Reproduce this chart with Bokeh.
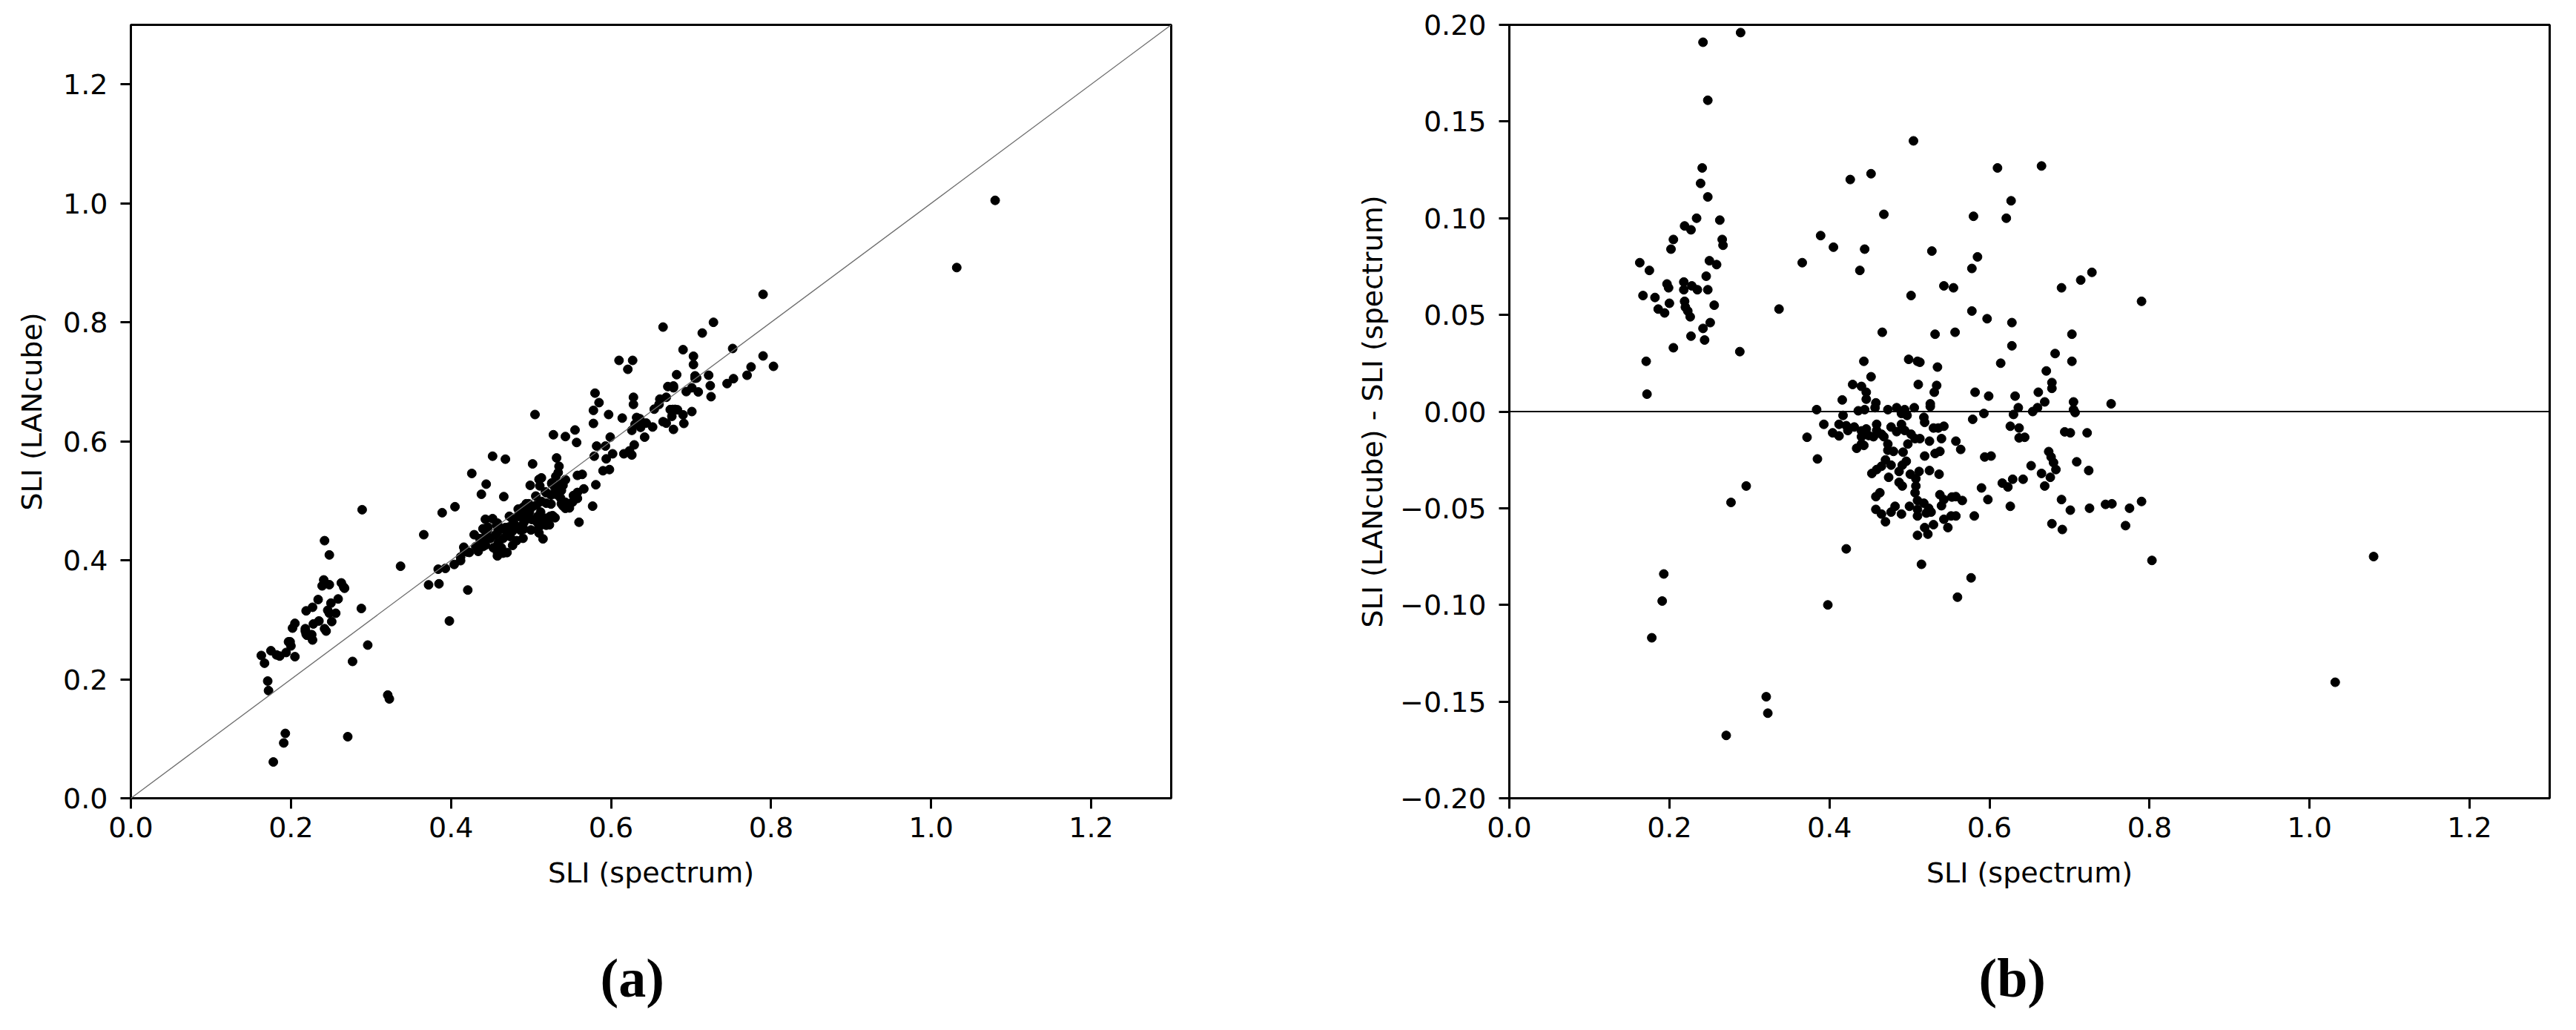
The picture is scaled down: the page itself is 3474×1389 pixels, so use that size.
import numpy as np
from bokeh.plotting import figure
from bokeh.layouts import row
from bokeh.models import FixedTicker, Slope, Span, Title, ColumnDataSource
from bokeh.embed import file_html
from bokeh.resources import INLINE

# SLI measured from the spectrum
sli_spectrum = [
    0.289, 0.242, 0.248, 0.241, 0.239, 0.248, 0.234, 0.263, 0.219, 0.227,
    0.205, 0.266, 0.267, 0.202, 0.163, 0.175, 0.250, 0.259, 0.246, 0.197,
    0.199, 0.218, 0.228, 0.235, 0.218, 0.248, 0.167, 0.182, 0.200, 0.186,
    0.194, 0.219, 0.220, 0.223, 0.226, 0.256, 0.337, 0.251, 0.242, 0.227,
    0.244, 0.205, 0.288, 0.171, 0.172,
    0.296, 0.277, 0.193, 0.191, 0.178, 0.321, 0.323, 0.271,
    0.505, 0.426, 0.452, 0.468, 0.389, 0.405, 0.444, 0.366, 0.438, 0.528,
    0.502, 0.543, 0.555, 0.466, 0.532, 0.557, 0.443, 0.499, 0.510, 0.513,
    0.535, 0.452, 0.429, 0.440, 0.511, 0.534, 0.531, 0.446, 0.416, 0.446,
    0.458, 0.526, 0.526, 0.384, 0.473, 0.484, 0.494, 0.506, 0.436, 0.457,
    0.610, 0.665, 0.627, 0.580, 0.621, 0.585, 0.578, 0.690, 0.714, 0.728,
    0.790, 0.578, 0.597, 0.628, 0.703, 0.628, 0.682, 0.614, 0.703, 0.671,
    0.678, 0.678, 0.582, 0.599, 0.632, 0.661, 0.669, 0.705, 0.752, 0.636,
    0.660, 0.654, 0.705, 0.593, 0.630,
    0.707, 0.579, 0.626, 0.637, 0.637, 0.644, 0.694, 0.701, 0.722, 0.558,
    0.564, 0.594, 0.602, 0.674, 0.677, 0.680, 0.683, 0.709, 0.724, 0.652,
    0.665, 0.676, 0.669, 0.642, 0.629, 0.616, 0.623, 0.590, 0.598, 0.558,
    0.566, 0.626, 0.690, 0.701, 0.725, 0.745, 0.753, 0.775, 0.790, 0.558,
    0.581, 0.678, 0.691, 0.770, 0.803, 0.577, 0.560,
    1.080, 1.032,
    0.444, 0.490, 0.497, 0.417, 0.518, 0.519, 0.393, 0.412, 0.421, 0.431,
    0.459, 0.477, 0.490, 0.530, 0.536, 0.543, 0.404, 0.412, 0.372, 0.423,
    0.440, 0.446, 0.459, 0.465, 0.484, 0.494, 0.502, 0.440, 0.449, 0.455,
    0.468, 0.507, 0.513, 0.525, 0.540, 0.440, 0.434, 0.443, 0.473, 0.498,
    0.473, 0.480, 0.492, 0.519, 0.532, 0.538, 0.385, 0.470, 0.496, 0.491,
    0.477, 0.465, 0.459, 0.453, 0.487, 0.501, 0.512, 0.525, 0.537, 0.474,
    0.487, 0.491, 0.508, 0.508, 0.507, 0.463, 0.458, 0.538, 0.543, 0.553,
    0.510, 0.518, 0.524, 0.510, 0.540, 0.500, 0.482, 0.477, 0.490, 0.458,
    0.465, 0.470, 0.510, 0.521, 0.527, 0.543, 0.552, 0.519, 0.530, 0.548,
    0.523, 0.510, 0.421, 0.515, 0.398,
]

# SLI (LANcube) - SLI (spectrum)
sli_difference = [
    0.196, 0.191, 0.161, 0.126, 0.118, 0.111, 0.100, 0.099, 0.096, 0.094,
    0.089, 0.089, 0.086, 0.084, 0.077, 0.073, 0.078, 0.076, 0.070, 0.066,
    0.064, 0.067, 0.065, 0.063, 0.063, 0.063, 0.060, 0.059, 0.056, 0.053,
    0.051, 0.057, 0.054, 0.052, 0.049, 0.055, 0.053, 0.046, 0.043, 0.039,
    0.037, 0.033, 0.031, 0.026, 0.009,
    -0.0385, -0.047, -0.084, -0.098, -0.117, -0.1475, -0.156, -0.1675,
    0.140, 0.120, 0.123, 0.102, 0.091, 0.085, 0.084, 0.077, 0.073, 0.083,
    0.060, 0.065, 0.064, 0.041, 0.040, 0.041, 0.026, 0.027, 0.026, 0.0255,
    0.023, 0.018, 0.014, 0.013, 0.014, 0.0135, 0.010, 0.010, 0.006, 0.0064,
    0.0045, 0.004, 0.0026, 0.001, 0.001, 0.002, 0.001, 0.002, 0.0004, 0.002,
    0.126, 0.127, 0.109, 0.101, 0.100, 0.080, 0.074, 0.064, 0.068, 0.072,
    0.057, 0.052, 0.048, 0.046, 0.040, 0.034, 0.030, 0.025, 0.026, 0.021,
    0.015, 0.012, 0.010, 0.008, 0.008, 0.010, 0.005, 0.005, 0.004, 0.002,
    0.002, 0.000, 0.001, -0.001, -0.0015,
    -0.0005, -0.004, -0.0076, -0.0085, -0.0136, -0.0133, -0.0105, -0.011, -0.011, -0.0153,
    -0.0196, -0.0235, -0.023, -0.0207, -0.0235, -0.0264, -0.030, -0.026, -0.0305, -0.028,
    -0.032, -0.034, -0.0385, -0.035, -0.035, -0.037, -0.039, -0.0395, -0.0455, -0.044,
    -0.046, -0.049, -0.0455, -0.051, -0.050, -0.048, -0.0477, -0.050, -0.0465, -0.054,
    -0.054, -0.058, -0.061, -0.059, -0.077, -0.086, -0.096,
    -0.075, -0.140,
    0.001, -0.001, -0.002, -0.002, -0.003, -0.0056, -0.0066, -0.0066, -0.0073, -0.008,
    -0.0066, -0.008, -0.0066, -0.0085, -0.0085, -0.0076, -0.011, -0.0126, -0.0133, -0.0098,
    -0.010, -0.009, -0.0098, -0.0117, -0.0104, -0.0098, -0.0117, -0.013, -0.0124, -0.013,
    -0.013, -0.014, -0.014, -0.0153, -0.014, -0.0168, -0.019, -0.0175, -0.0168, -0.0168,
    -0.020, -0.0206, -0.021, -0.023, -0.0217, -0.0206, -0.0245, -0.025, -0.0257, -0.0277,
    -0.0277, -0.0283, -0.030, -0.032, -0.031, -0.0324, -0.031, -0.0305, -0.0324, -0.034,
    -0.0366, -0.0385, -0.0347, -0.0385, -0.042, -0.042, -0.044, -0.043, -0.0455, -0.0442,
    -0.046, -0.0474, -0.050, -0.0506, -0.0487, -0.049, -0.049, -0.052, -0.053, -0.0506,
    -0.053, -0.057, -0.054, -0.0525, -0.052, -0.0557, -0.054, -0.060, -0.0585, -0.060,
    -0.0634, -0.064, -0.071, -0.079, -0.100,
]

x_ticks = [0.0, 0.2, 0.4, 0.6, 0.8, 1.0, 1.2]
x_tick_labels = ["0.0", "0.2", "0.4", "0.6", "0.8", "1.0", "1.2"]
ya_ticks = [0.0, 0.2, 0.4, 0.6, 0.8, 1.0, 1.2]
ya_tick_labels = ["0.0", "0.2", "0.4", "0.6", "0.8", "1.0", "1.2"]
yb_ticks = [-0.20, -0.15, -0.10, -0.05, 0.00, 0.05, 0.10, 0.15, 0.20]
yb_tick_labels = ["\u22120.20", "\u22120.15", "\u22120.10", "\u22120.05", "0.00",
                  "0.05", "0.10", "0.15", "0.20"]

spec = np.array(sli_spectrum)
diff = np.array(sli_difference)
lancube = spec + diff

src = ColumnDataSource(dict(spec=spec, lancube=lancube, diff=diff))

FONT = "DejaVu Sans"
FS = "38px"


def style(p, xt, xl, yt, yl, xlabel, ylabel, ylabel_standoff):
    p.background_fill_color = "white"
    p.border_fill_color = "white"
    p.outline_line_color = "black"
    p.outline_line_width = 3
    p.xgrid.visible = False
    p.ygrid.visible = False
    p.xaxis.ticker = FixedTicker(ticks=xt)
    p.xaxis.major_label_overrides = dict(zip(xt, xl))
    p.yaxis.ticker = FixedTicker(ticks=yt)
    p.yaxis.major_label_overrides = dict(zip(yt, yl))
    p.xaxis.axis_label = xlabel
    p.yaxis.axis_label = ylabel
    for ax in (p.xaxis, p.yaxis):
        ax.axis_line_color = "black"
        ax.axis_line_width = 3
        ax.major_tick_line_color = "black"
        ax.major_tick_line_width = 3
        ax.major_tick_out = 14
        ax.major_tick_in = 0
        ax.minor_tick_line_color = None
        ax.major_label_text_font = FONT
        ax.major_label_text_font_size = FS
        ax.major_label_text_color = "black"
        ax.axis_label_text_font = FONT
        ax.axis_label_text_font_size = FS
        ax.axis_label_text_font_style = "normal"
        ax.axis_label_text_color = "black"
    p.xaxis.major_label_standoff = 11
    p.xaxis.axis_label_standoff = 23
    p.yaxis.major_label_standoff = 17
    p.yaxis.axis_label_standoff = ylabel_standoff


def caption(p, text):
    t = Title(text=text, align="left", text_font="Liberation Serif",
              text_font_size="74px", text_font_style="bold", text_color="black",
              standoff=149, offset=633)
    p.add_layout(t, "below")


p1 = figure(frame_width=1403, frame_height=1043, min_border_left=176,
            min_border_right=158, min_border_top=33, min_border_bottom=305,
            x_range=(0, 1.3), y_range=(0, 1.3), output_backend="svg",
            toolbar_location=None)
style(p1, x_ticks, x_tick_labels, ya_ticks, ya_tick_labels,
      "SLI (spectrum)", "SLI (LANcube)", 17)
p1.add_layout(Slope(gradient=1, y_intercept=0, line_color="#6e6e6e", line_width=1.3))
p1.scatter("spec", "lancube", source=src, size=12, color="black")
caption(p1, "(a)")

p2 = figure(frame_width=1403, frame_height=1043, min_border_left=298,
            min_border_right=25, min_border_top=33, min_border_bottom=305,
            x_range=(0, 1.3), y_range=(-0.2, 0.2), output_backend="svg",
            toolbar_location=None)
style(p2, x_ticks, x_tick_labels, yb_ticks, yb_tick_labels,
      "SLI (spectrum)", "SLI (LANcube) - SLI (spectrum)", 12)
p2.add_layout(Span(location=0, dimension="width", line_color="black", line_width=1.8))
p2.scatter("spec", "diff", source=src, size=12, color="black")
caption(p2, "(b)")

layout = row(p1, p2)
open("out.html", "w").write(file_html(layout, INLINE))
